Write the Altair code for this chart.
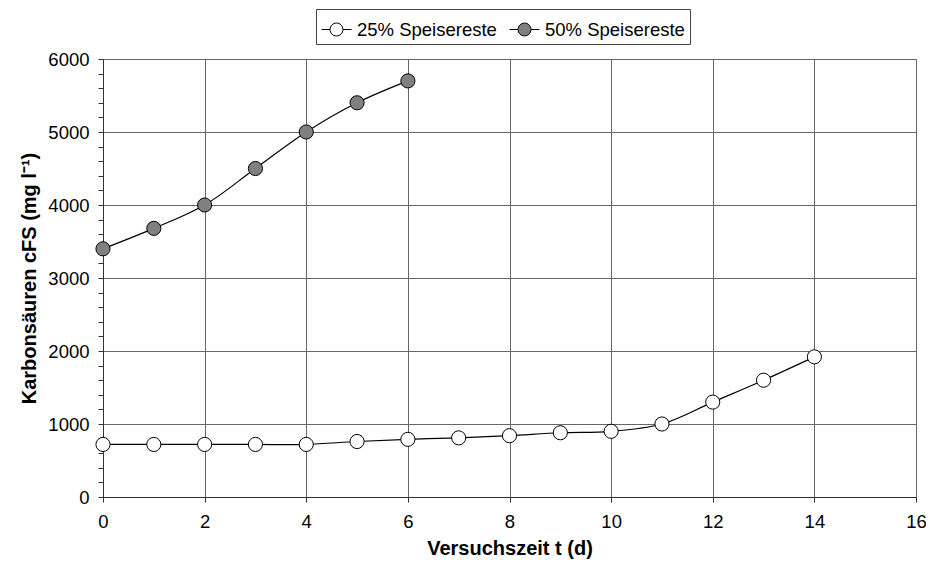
import altair as alt
import pandas as pd

days_25 = list(range(15))
vals_25 = [720, 720, 720, 720, 720, 760, 790, 810, 840, 880, 900, 1000, 1300, 1600, 1920]
days_50 = list(range(7))
vals_50 = [3400, 3680, 4000, 4500, 5000, 5400, 5700]
series = ["25% Speisereste", "50% Speisereste"]
fills = ["#ffffff", "#808080"]
x_ticks = list(range(0, 17, 2))
y_ticks = list(range(0, 6001, 200))

df = pd.DataFrame({
    "t": days_25 + days_50,
    "c": vals_25 + vals_50,
    "s": [series[0]] * len(days_25) + [series[1]] * len(days_50),
})

FONT = "Liberation Sans"
SYMBOL = ("M-1,0L-0.43,0M0.43,0L1,0"
          "M-0.43,0A0.43,0.43,0,1,1,0.43,0A0.43,0.43,0,1,1,-0.43,0Z")

x = alt.X("t:Q", scale=alt.Scale(domain=[0, 16], nice=False, zero=False),
          axis=alt.Axis(values=x_ticks, title="Versuchszeit t (d)", format="d",
                        labelPadding=10, titlePadding=8, labelFlush=False))
y = alt.Y("c:Q", scale=alt.Scale(domain=[0, 6000], nice=False),
          axis=alt.Axis(values=y_ticks, title="Karbonsäuren cFS (mg l⁻¹)", format="d",
                        labelExpr="datum.value % 1000 === 0 ? datum.label : ''",
                        labelOverlap=False, labelFlush=False,
                        gridOpacity={"condition": {"test": "datum.value % 1000 === 0", "value": 1}, "value": 0},
                        labelPadding=9, titlePadding=8))

line = alt.Chart(df).mark_line(color="black", strokeWidth=1.2, interpolate="catmull-rom").encode(
    x=x, y=y, detail="s:N")

points = alt.Chart(df).mark_point(shape="circle", filled=True, size=200, stroke="black",
                                  strokeWidth=1, opacity=1).encode(
    x=x, y=y,
    fill=alt.Fill("s:N", scale=alt.Scale(domain=series, range=fills),
                  legend=alt.Legend(title=None, orient="none", legendX=213, legendY=-50,
                                    direction="horizontal", symbolType=SYMBOL, symbolSize=900,
                                    symbolStrokeColor="black", symbolStrokeWidth=1,
                                    symbolOpacity=1,
                                    labelFont=FONT, labelFontSize=18.5, labelColor="black",
                                    strokeColor="#444", fillColor="white", padding=5,
                                    columnPadding=10, labelOffset=5)))

chart = alt.layer(line, points).properties(
    width=813, height=438,
    autosize=alt.AutoSizeParams(type="none"),
    padding={"left": 95, "top": 51, "right": 10, "bottom": 62},
).configure_view(stroke="#888", strokeWidth=1).configure_axis(
    labelFont=FONT, labelFontSize=18.5, labelColor="black",
    titleFont=FONT, titleFontSize=20, titleFontWeight="bold", titleColor="black",
    domainColor="#333", tickColor="#333", tickSize=5, gridColor="#666", gridWidth=1,
)

chart.save("out.html", embed_options={"renderer": "svg", "actions": False})
